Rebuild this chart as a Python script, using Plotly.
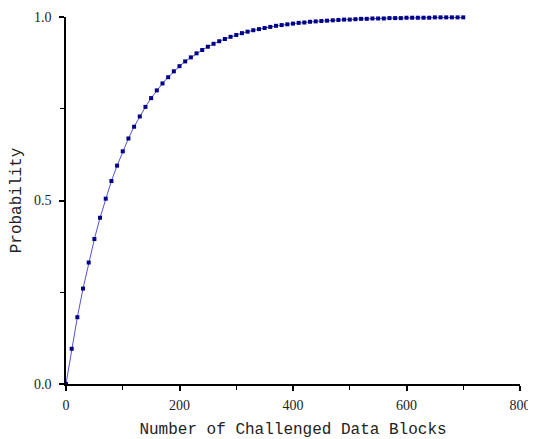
import plotly.graph_objects as go

blocks = list(range(0, 701, 10))
probability = [
    0.000, 0.096, 0.182, 0.260, 0.331, 0.395, 0.453, 0.505, 0.553, 0.595,
    0.634, 0.669, 0.701, 0.729, 0.755, 0.779, 0.800, 0.819, 0.836, 0.852,
    0.866, 0.879, 0.890, 0.901, 0.910, 0.919, 0.927, 0.934, 0.940, 0.946,
    0.951, 0.956, 0.960, 0.964, 0.967, 0.970, 0.973, 0.976, 0.978, 0.980,
    0.982, 0.984, 0.985, 0.987, 0.988, 0.989, 0.990, 0.991, 0.992, 0.993,
    0.993, 0.994, 0.995, 0.995, 0.996, 0.996, 0.996, 0.997, 0.997, 0.997,
    0.998, 0.998, 0.998, 0.998, 0.998, 0.999, 0.999, 0.999, 0.999, 0.999,
    0.999,
]
x_ticks = [0, 200, 400, 600, 800]
y_ticks = [0.0, 0.5, 1.0]
y_labels = ["0.0", "0.5", "1.0"]

fig = go.Figure()
fig.add_trace(go.Scatter(
    x=blocks, y=probability, mode="lines+markers",
    line=dict(color="#4040c8", width=0.9),
    marker=dict(symbol="square", size=4, color="#000088"),
    showlegend=False, cliponaxis=False,
))

tick_font = dict(family="Liberation Serif", size=14, color="#222")
title_font = dict(family="Liberation Mono", size=16, color="#222")

# page body has an 8px margin; size the figure to fit the 536x439 window
fig.update_layout(
    width=528, height=431,
    margin=dict(l=58, r=16, t=9, b=55),
    paper_bgcolor="white", plot_bgcolor="white",
    xaxis=dict(
        range=[0, 800], tickvals=x_ticks, showgrid=False, zeroline=False, automargin=False,
        showline=True, linecolor="black", linewidth=1.5,
        ticks="outside", ticklen=5, tickwidth=1.5, tickcolor="black",
        minor=dict(dtick=100, ticks="outside", ticklen=4, tickwidth=1.2, tickcolor="black", showgrid=False),
        tickfont=tick_font, ticklabelstandoff=2,
        title=dict(text="Number of Challenged Data Blocks", font=title_font, standoff=12),
    ),
    yaxis=dict(
        range=[0, 1], tickvals=y_ticks, ticktext=y_labels, showgrid=False, zeroline=False, automargin=False,
        showline=True, linecolor="black", linewidth=1.5,
        ticks="outside", ticklen=5, tickwidth=1.5, tickcolor="black",
        minor=dict(dtick=0.25, ticks="outside", ticklen=4, tickwidth=1.2, tickcolor="black", showgrid=False),
        tickfont=tick_font, ticklabelstandoff=5,
        title=dict(text="Probability", font=title_font, standoff=10),
    ),
)

fig.write_html("out.html")
